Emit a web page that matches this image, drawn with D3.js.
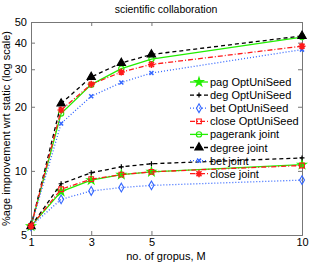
<!DOCTYPE html>
<html>
<head>
<meta charset="utf-8">
<script src="https://cdn.jsdelivr.net/npm/d3@7"></script>
<style>
  body { margin: 0; background: #fff; }
  text { font-family: "Liberation Sans", Arial, sans-serif; }
</style>
</head>
<body>
<script>
// groups on x axis
var groups = [1, 2, 3, 4, 5, 10];
var xTicks = [1, 3, 5, 10];
var yTicks = [5, 10, 20, 30, 40, 50];

// OptUniSeed series
var pagOpt   = [5.5, 8.0, 9.05, 9.6, 9.9, 10.7];
var degOpt   = [5.5, 8.7, 9.8, 10.45, 10.8, 11.5];
var betOpt   = [5.5, 7.35, 8.05, 8.35, 8.55, 9.05];
var closeOpt = [5.5, 8.2, 9.15, 9.6, 9.9, 10.6];
// joint series
var pagJoint   = [5.5, 18.6, 25.4, 30.2, 33.5, 42.5];
var degJoint   = [5.5, 20.7, 27.6, 32.1, 35.2, 43.0];
var betJoint   = [5.5, 16.7, 22.4, 26.0, 28.8, 37.1];
var closeJoint = [5.5, 19.3, 25.5, 29.1, 31.6, 38.5];

var green = "#22ee00", black = "#000", blue = "#3366ff", red = "#ff1a1a";

var series = [
  {name: "pag OptUniSeed",   values: pagOpt,     color: green, dash: null,      sym: "star",   fill: true},
  {name: "deg OptUniSeed",   values: degOpt,     color: black, dash: "4,3",     sym: "plus",   fill: false},
  {name: "bet OptUniSeed",   values: betOpt,     color: blue,  dash: "1,2",     sym: "diamond",fill: false},
  {name: "close OptUniSeed", values: closeOpt,   color: red,   dash: "5,2,1,2", sym: "square", fill: false},
  {name: "pagerank joint",   values: pagJoint,   color: green, dash: null,      sym: "circle", fill: false},
  {name: "degree joint",     values: degJoint,   color: black, dash: "4,3",     sym: "triangle", fill: true},
  {name: "bet joint",        values: betJoint,   color: blue,  dash: "1,2",     sym: "x",      fill: true},
  {name: "close joint",      values: closeJoint, color: red,   dash: "5,2,1,2", sym: "asterisk", fill: true}
];

var margin = {top: 22, right: 9, bottom: 28, left: 31},
    width = 311 - margin.left - margin.right,
    height = 263 - margin.top - margin.bottom;

var svg = d3.select("body").append("svg")
  .attr("width", 311).attr("height", 263);

var g = svg.append("g")
  .attr("transform", "translate(" + margin.left + "," + margin.top + ")");

var x = d3.scaleLinear().domain([1, 10]).range([0, width]);
var y = d3.scaleLog().domain([5, 50]).range([height, 0]);

// axes with inward ticks on all sides
g.append("g").attr("transform", "translate(0," + height + ")")
  .call(d3.axisBottom(x).tickValues(xTicks).tickSize(-4).tickPadding(3).tickFormat(d3.format("d")));
g.append("g")
  .call(d3.axisTop(x).tickValues(xTicks).tickSize(-4).tickFormat(""));
g.append("g")
  .call(d3.axisLeft(y).tickValues(yTicks).tickSize(-4).tickPadding(4).tickFormat(d3.format("d")));
g.append("g").attr("transform", "translate(" + width + ",0)")
  .call(d3.axisRight(y).tickValues(yTicks).tickSize(-4).tickFormat(""));

g.selectAll(".domain").attr("stroke", "#777");
g.selectAll(".tick line").attr("stroke", "#777");
g.selectAll(".tick text").attr("font-size", 11).attr("fill", "#000")
  .style("font-family", "Liberation Sans, Arial, sans-serif");

var line = d3.line()
  .x(function(d, i) { return x(groups[i]); })
  .y(function(d) { return y(d); });

function marker(sel, s, cx, cy) {
  var m = sel.append("g").attr("transform", "translate(" + cx + "," + cy + ")");
  var st = s.color;
  if (s.sym === "plus") {
    m.append("path").attr("d", "M-2.5,0H2.5M0,-2.5V2.5").attr("stroke", st).attr("stroke-width", 1.2);
  } else if (s.sym === "x") {
    m.append("path").attr("d", "M-2,-2L2,2M-2,2L2,-2").attr("stroke", st).attr("stroke-width", 1.5);
  } else if (s.sym === "asterisk") {
    m.append("path").attr("d", "M-3.5,0H3.5M0,-3.5V3.5M-2.5,-2.5L2.5,2.5M-2.5,2.5L2.5,-2.5")
      .attr("stroke", st).attr("stroke-width", 1.6);
  } else {
    var type = {star: d3.symbolStar, diamond: d3.symbolDiamond, square: d3.symbolSquare,
                circle: d3.symbolCircle, triangle: d3.symbolTriangle}[s.sym];
    var size = {star: 24, diamond: 22, square: 22, circle: 22, triangle: 30}[s.sym];
    m.append("path").attr("d", d3.symbol().type(type).size(size)())
      .attr("fill", s.fill ? st : "none").attr("stroke", st).attr("stroke-width", 1.1);
  }
}

series.forEach(function(s) {
  g.append("path").datum(s.values)
    .attr("fill", "none").attr("stroke", s.color).attr("stroke-width", 1.3)
    .attr("stroke-dasharray", s.dash)
    .attr("d", line);
  s.values.forEach(function(v, i) { marker(g, s, x(groups[i]), y(v)); });
});

// legend (no box)
var leg = svg.append("g").attr("transform", "translate(190,82)");
series.forEach(function(s, i) {
  var row = leg.append("g").attr("transform", "translate(0," + (i * 13.1) + ")");
  row.append("line").attr("x1", 0).attr("x2", 18).attr("y1", 0).attr("y2", 0)
    .attr("stroke", s.color).attr("stroke-width", 1.3).attr("stroke-dasharray", s.dash);
  marker(row, s, 9, 0);
  row.append("text").attr("x", 20).attr("y", 4).attr("font-size", 11).text(s.name);
});

// title and labels
svg.append("text").attr("x", 166).attr("y", 13).attr("text-anchor", "middle")
  .attr("font-size", 10.5).text("scientific collaboration");
svg.append("text").attr("x", 166).attr("y", 260).attr("text-anchor", "middle")
  .attr("font-size", 11).text("no. of gropus, M");
svg.append("text").attr("transform", "translate(10," + (margin.top + height / 2) + ") rotate(-90)")
  .attr("text-anchor", "middle").attr("font-size", 11)
  .text("%age improvement wrt static (log scale)");
</script>
</body>
</html>
